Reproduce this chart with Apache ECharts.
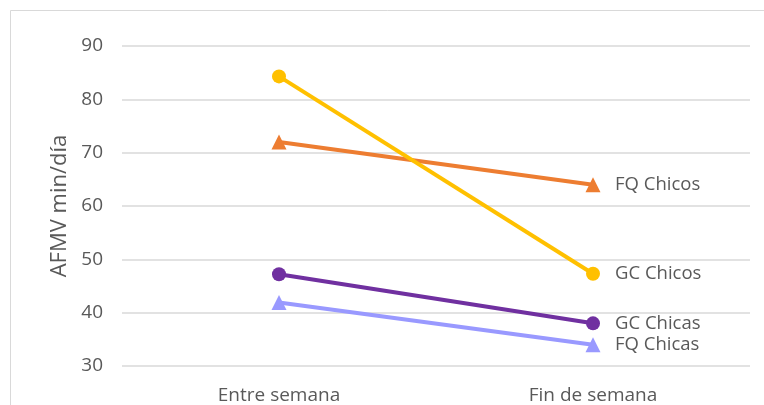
<!DOCTYPE html>
<html>
<head>
<meta charset="utf-8">
<script src="https://cdn.jsdelivr.net/npm/echarts@6/dist/echarts.min.js"></script>
<style>
  html, body { margin: 0; padding: 0; background: #fff; }
  #chart { width: 764px; height: 405px; }
</style>
</head>
<body>
<div id="chart"></div>
<script>
// Categories and series values
const categories = ['Entre semana', 'Fin de semana'];
const gcChicos = [84.3, 47.3];
const fqChicos = [72.0, 64.0];
const gcChicas = [47.2, 38.0];
const fqChicas = [41.9, 34.0];
const yTicks = { min: 30, max: 90, interval: 10 };
const yAxisName = 'AFMV min/día';

const textColor = '#595959';
const fontFamily = '"Open Sans", "Noto Sans", sans-serif';

function lineSeries(name, data, color, symbol) {
  return {
    name: name,
    type: 'line',
    data: data,
    symbol: symbol,
    symbolSize: symbol === 'triangle' ? 15 : 14,
    lineStyle: { color: color, width: 4 },
    itemStyle: { color: color },
    endLabel: {
      show: true,
      formatter: name,
      color: textColor,
      fontFamily: fontFamily,
      fontSize: 18.5,
      distance: 22
    },
    z: 3
  };
}

const chart = echarts.init(document.getElementById('chart'));
chart.setOption({
  animation: false,
  backgroundColor: '#fff',
  graphic: [{
    type: 'rect',
    shape: { x: 10.5, y: 10.5, width: 770, height: 420 },
    style: { fill: 'none', stroke: '#d9d9d9', lineWidth: 1 },
    silent: true
  }],
  grid: { left: 122, right: 14, top: 46, bottom: 38 },
  xAxis: {
    type: 'category',
    data: categories,
    boundaryGap: true,
    axisLine: { show: false },
    axisTick: { show: false },
    axisLabel: { color: textColor, fontFamily: fontFamily, fontSize: 19, margin: 20 }
  },
  yAxis: {
    type: 'value',
    min: yTicks.min,
    max: yTicks.max,
    interval: yTicks.interval,
    name: yAxisName,
    nameLocation: 'middle',
    nameGap: 49,
    nameRotate: 90,
    nameTextStyle: { color: textColor, fontFamily: fontFamily, fontSize: 22 },
    axisLine: { show: false },
    axisTick: { show: false },
    axisLabel: { color: textColor, fontFamily: fontFamily, fontSize: 19, margin: 19 },
    splitLine: { lineStyle: { color: '#d9d9d9', width: 1.5 } }
  },
  series: [
    lineSeries('FQ Chicos', fqChicos, '#ED7D31', 'triangle'),
    lineSeries('GC Chicos', gcChicos, '#FFC000', 'circle'),
    lineSeries('GC Chicas', gcChicas, '#7030A0', 'circle'),
    lineSeries('FQ Chicas', fqChicas, '#9999FF', 'triangle')
  ]
});
</script>
</body>
</html>
